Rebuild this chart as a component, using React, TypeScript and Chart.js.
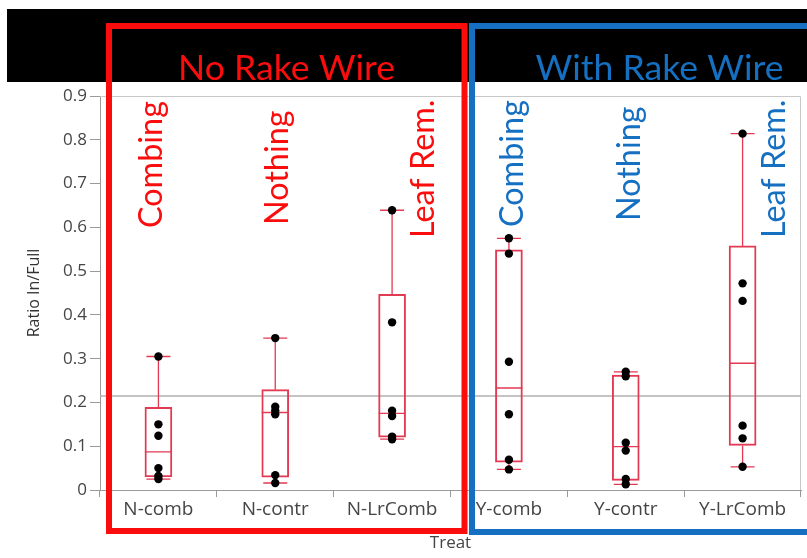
import React, { useEffect, useRef } from 'react';
import { Chart, registerables } from 'chart.js';

Chart.register(...registerables);

// ---- data ----
const categories = ['N-comb', 'N-contr', 'N-LrComb', 'Y-comb', 'Y-contr', 'Y-LrComb'];
const nComb = [0.305, 0.150, 0.124, 0.050, 0.032, 0.025];
const nContr = [0.347, 0.190, 0.181, 0.173, 0.034, 0.016];
const nLrComb = [0.639, 0.383, 0.181, 0.169, 0.122, 0.116];
const yComb = [0.575, 0.540, 0.293, 0.173, 0.069, 0.047];
const yContr = [0.270, 0.260, 0.108, 0.090, 0.025, 0.013];
const yLrComb = [0.814, 0.472, 0.432, 0.147, 0.118, 0.053];
const groups = [nComb, nContr, nLrComb, yComb, yContr, yLrComb];
const yTickLabels = ['0', '0.1', '0.2', '0.3', '0.4', '0.5', '0.6', '0.7', '0.8', '0.9'];
const treatmentLabels = ['Combing', 'Nothing', 'Leaf Rem.'];
const panelTitles = ['No Rake Wire', 'With Rake Wire'];
const yTitle = 'Ratio In/Full';
const xTitle = 'Treat';

// ---- stats (JMP-style quantiles) ----
function quantile(sorted: number[], p: number) {
  const n = sorted.length;
  const pos = p * (n + 1);
  const i = Math.floor(pos);
  const f = pos - i;
  if (i < 1) return sorted[0];
  if (i >= n) return sorted[n - 1];
  return sorted[i - 1] + f * (sorted[i] - sorted[i - 1]);
}
const stats = groups.map((g) => {
  const s = [...g].sort((a, b) => a - b);
  const q1 = quantile(s, 0.25);
  const med = quantile(s, 0.5);
  const q3 = quantile(s, 0.75);
  const iqr = q3 - q1;
  const lo = Math.min(...s.filter((v) => v >= q1 - 1.5 * iqr));
  const hi = Math.max(...s.filter((v) => v <= q3 + 1.5 * iqr));
  return { q1, med, q3, lo, hi };
});
const allVals = groups.flat();
const grandMean = allVals.reduce((a, b) => a + b, 0) / allVals.length;

const BOX = '#e23a52';
const RED = '#fb0d0d';
const BLUE = '#1670c2';
const TICK = '#454545';

const extras = {
  id: 'extras',
  beforeDraw(chart: any) {
    const ctx = chart.ctx;
    ctx.save();
    ctx.fillStyle = '#000';
    ctx.fillRect(7, 9, chart.width - 7, 73);
    ctx.restore();
  },
  beforeDatasetsDraw(chart: any) {
    const { ctx, chartArea: a, scales } = chart;
    const x = scales.x;
    const y = scales.y;
    ctx.save();
    ctx.strokeStyle = '#c8c8c8';
    ctx.lineWidth = 1;
    ctx.beginPath();
    ctx.moveTo(a.left, a.top + 0.5);
    ctx.lineTo(a.right - 0.5, a.top + 0.5);
    ctx.lineTo(a.right - 0.5, a.bottom);
    ctx.stroke();
    const my = y.getPixelForValue(grandMean);
    ctx.strokeStyle = '#b0b0b0';
    ctx.lineWidth = 1.5;
    ctx.beginPath();
    ctx.moveTo(a.left, my);
    ctx.lineTo(a.right, my);
    ctx.stroke();
    ctx.strokeStyle = BOX;
    ctx.lineWidth = 1.3;
    stats.forEach((s, i) => {
      const cx = x.getPixelForValue(i);
      const yq1 = y.getPixelForValue(s.q1);
      const yq3 = y.getPixelForValue(s.q3);
      const ylo = y.getPixelForValue(s.lo);
      const yhi = y.getPixelForValue(s.hi);
      const ymed = y.getPixelForValue(s.med);
      ctx.beginPath();
      ctx.moveTo(cx, yq3);
      ctx.lineTo(cx, yhi);
      ctx.moveTo(cx, yq1);
      ctx.lineTo(cx, ylo);
      ctx.moveTo(cx - 12, yhi);
      ctx.lineTo(cx + 12, yhi);
      ctx.moveTo(cx - 12, ylo);
      ctx.lineTo(cx + 12, ylo);
      ctx.moveTo(cx - 13.5, ymed);
      ctx.lineTo(cx + 13.5, ymed);
      ctx.stroke();
    });
    ctx.restore();
  },
  afterDraw(chart: any) {
    const ctx = chart.ctx;
    ctx.save();
    // panel boxes
    ctx.lineWidth = 6;
    ctx.strokeStyle = RED;
    ctx.strokeRect(109, 26, 355.5, 505);
    ctx.strokeStyle = BLUE;
    ctx.strokeRect(472, 26, 345, 506);
    // panel titles
    const fam = 'Lato, "Open Sans", sans-serif';
    ctx.font = `100px ${fam}`;
    const titleSize = (100 * 217) / ctx.measureText(panelTitles[0]).width;
    ctx.font = `${titleSize}px ${fam}`;
    ctx.textAlign = 'center';
    ctx.textBaseline = 'alphabetic';
    ctx.fillStyle = RED;
    ctx.fillText(panelTitles[0], 286.5, 80);
    ctx.fillStyle = BLUE;
    ctx.fillText(panelTitles[1], 659.5, 80);
    // rotated treatment labels
    ctx.font = `100px ${fam}`;
    const labSize = (100 * 127) / ctx.measureText(treatmentLabels[0]).width;
    ctx.font = `${labSize}px ${fam}`;
    ctx.textAlign = 'left';
    const spots = [
      [162, 228, RED], [288, 225, RED], [434, 238, RED],
      [523, 227, BLUE], [640, 221, BLUE], [785, 238, BLUE],
    ];
    spots.forEach((p, i) => {
      ctx.save();
      ctx.translate(p[0] as number, p[1] as number);
      ctx.rotate(-Math.PI / 2);
      ctx.fillStyle = p[2] as string;
      ctx.fillText(treatmentLabels[i % 3], 0, 0);
      ctx.restore();
    });
    ctx.restore();
  },
};

export default function App() {
  const ref = useRef<HTMLCanvasElement | null>(null);
  useEffect(() => {
    document.body.style.margin = '0';
    document.body.style.overflow = 'hidden';
    const points = groups.flatMap((g, i) => g.map((v) => ({ x: categories[i], y: v })));
    const chart = new Chart(ref.current as HTMLCanvasElement, {
      type: 'bar',
      data: {
        labels: categories,
        datasets: [
          {
            type: 'bar',
            data: stats.map((s) => [s.q1, s.q3]) as any,
            backgroundColor: 'rgba(0,0,0,0)',
            borderColor: BOX,
            borderWidth: 1.3,
            borderSkipped: false,
            barThickness: 27,
            order: 2,
          } as any,
          {
            type: 'line',
            data: points as any,
            showLine: false,
            pointRadius: 4.2,
            pointBackgroundColor: '#000',
            pointBorderColor: '#000',
            pointBorderWidth: 0,
            order: 0,
          } as any,
        ],
      },
      options: {
        responsive: false,
        maintainAspectRatio: false,
        devicePixelRatio: 1,
        animation: false,
        layout: { padding: { top: 96, right: 6, left: 0, bottom: 0 } },
        plugins: { legend: { display: false }, tooltip: { enabled: false } },
        scales: {
          x: {
            offset: true,
            grid: { offset: true, drawOnChartArea: false, tickLength: 7, color: '#9a9a9a' },
            border: { color: '#9a9a9a' },
            ticks: { color: TICK, font: { family: '"Open Sans", sans-serif', size: 19 }, padding: 1, maxRotation: 0 },
            title: {
              display: true,
              text: xTitle,
              color: TICK,
              font: { family: '"Open Sans", sans-serif', size: 17 },
              padding: { top: 0, bottom: 5 },
            },
            afterFit: (s: any) => { s.height = 68; },
          },
          y: {
            min: 0,
            max: 0.9,
            grid: { drawOnChartArea: false, tickLength: 10, color: '#9a9a9a' },
            border: { color: '#9a9a9a' },
            ticks: {
              stepSize: 0.1,
              color: TICK,
              padding: 3,
              font: { family: '"Open Sans", sans-serif', size: 17 },
              callback: (_v: any, i: number) => yTickLabels[i],
            },
            title: {
              display: true,
              text: yTitle,
              color: '#333',
              font: { family: '"Open Sans", sans-serif', size: 16 },
              padding: { top: 25, bottom: 0 },
            },
            afterFit: (s: any) => { s.width = 100; },
          },
        },
      } as any,
      plugins: [extras],
    });
    return () => chart.destroy();
  }, []);
  return (
    <div style={{ position: 'absolute', left: 0, top: 0, width: 807, height: 558, background: '#fff' }}>
      <canvas ref={ref} width={807} height={558} style={{ display: 'block' }} />
    </div>
  );
}
